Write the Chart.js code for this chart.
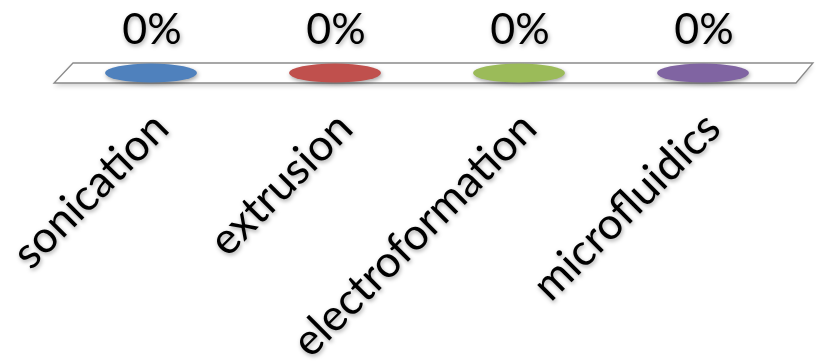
<!DOCTYPE html>
<html><head><meta charset="utf-8">
<script src="https://cdn.jsdelivr.net/npm/chart.js@4/dist/chart.umd.min.js"></script>
<style>html,body{margin:0;padding:0;background:#fff;overflow:hidden}</style>
</head><body>
<canvas id="c" width="817" height="363"></canvas>
<script>
const categories = ['sonication', 'extrusion', 'electroformation', 'microfluidics'];
const values = [0, 0, 0, 0];
const colors = ['#4F81BD', '#C0504D', '#9BBB59', '#8064A2'];

function makeEllipse(color) {
  const c = document.createElement('canvas');
  c.width = 96; c.height = 24;
  const g = c.getContext('2d');
  g.fillStyle = color;
  g.beginPath();
  g.ellipse(48, 12, 46, 9.5, 0, 0, Math.PI * 2);
  g.fill();
  return c;
}

const shadowPlugin = {
  id: 'shadow',
  beforeDraw(chart) {
    const ctx = chart.ctx;
    ctx.shadowColor = 'rgba(0,0,0,0.35)';
    ctx.shadowBlur = 4;
    ctx.shadowOffsetX = 1;
    ctx.shadowOffsetY = 2;
  },
  afterDraw(chart) {
    const ctx = chart.ctx;
    ctx.shadowColor = 'rgba(0,0,0,0)';
    ctx.shadowBlur = 0;
    ctx.shadowOffsetX = 0;
    ctx.shadowOffsetY = 0;
  }
};

const floorPlugin = {
  id: 'floor',
  beforeDatasetsDraw(chart) {
    const ctx = chart.ctx;
    const a = chart.chartArea;
    const y0 = chart.scales.y.getPixelForValue(0);
    ctx.save();
    ctx.shadowColor = 'rgba(0,0,0,0.18)';
    ctx.shadowBlur = 5;
    ctx.shadowOffsetX = 0;
    ctx.shadowOffsetY = 3;
    ctx.beginPath();
    ctx.moveTo(a.left + 14, y0 - 10);
    ctx.lineTo(a.right + 18, y0 - 10);
    ctx.lineTo(a.right + 1, y0 + 10);
    ctx.lineTo(a.left - 5, y0 + 10);
    ctx.closePath();
    ctx.fillStyle = '#ffffff';
    ctx.fill();
    ctx.shadowColor = 'rgba(0,0,0,0)';
    ctx.lineWidth = 1.3;
    ctx.strokeStyle = '#8a8a8a';
    ctx.stroke();
    ctx.restore();
  },
  afterDatasetsDraw(chart) {
    const ctx = chart.ctx;
    const meta = chart.getDatasetMeta(0);
    ctx.save();
    ctx.font = '43px Lato';
    ctx.fillStyle = '#000';
    ctx.textAlign = 'center';
    ctx.textBaseline = 'middle';
    meta.data.forEach((pt, i) => {
      ctx.fillText(values[i] + '%', pt.x + 1, pt.y - 43);
    });
    ctx.restore();
  }
};

function build() {
  new Chart(document.getElementById('c'), {
    type: 'line',
    data: {
      labels: categories,
      datasets: [{
        data: values,
        showLine: false,
        pointStyle: colors.map(makeEllipse),
        pointRadius: 46,
        pointHoverRadius: 46,
        clip: false
      }]
    },
    options: {
      responsive: false,
      animation: false,
      events: [],
      layout: { autoPadding: false, padding: { left: 59, right: 22, top: 0, bottom: 0 } },
      plugins: { legend: { display: false }, tooltip: { enabled: false } },
      scales: {
        x: {
          type: 'category',
          offset: true,
          grid: { display: false, drawTicks: false },
          border: { display: false },
          ticks: {
            autoSkip: false,
            minRotation: 45,
            maxRotation: 45,
            padding: 29,
            labelOffset: 10,
            color: '#000',
            font: { family: 'Lato', size: 44 }
          },
          afterFit(scale) {
            scale.height = 290;
            scale.paddingLeft = 0;
            scale.paddingRight = 0;
          }
        },
        y: { display: false, min: 0, max: 1 }
      }
    },
    plugins: [shadowPlugin, floorPlugin]
  });
}

Promise.all([document.fonts.load('44px Lato'), document.fonts.load('43px Lato')])
  .then(build, build);
</script>
</body></html>
